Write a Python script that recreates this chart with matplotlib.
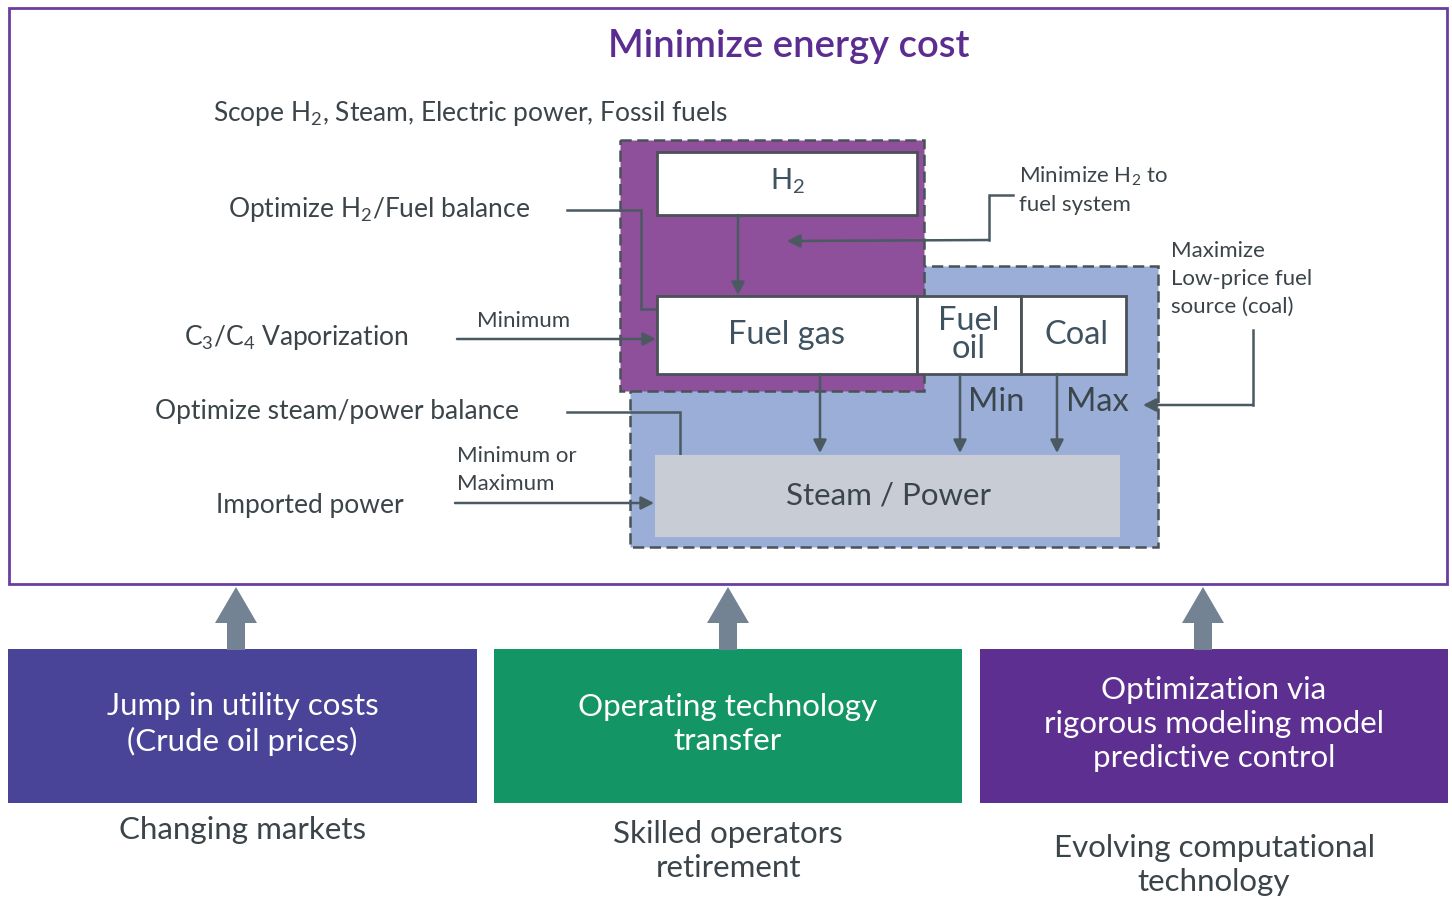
import matplotlib.pyplot as plt
from matplotlib.patches import Rectangle, FancyArrow

plt.rcParams['font.family'] = ['Lato', 'DejaVu Sans']
plt.rcParams['mathtext.fontset'] = 'custom'
plt.rcParams['mathtext.rm'] = 'Lato'
plt.rcParams['mathtext.default'] = 'regular'

# texts of the diagram
title = 'Minimize energy cost'
scope = 'Scope H$_2$, Steam, Electric power, Fossil fuels'
left_labels = ['Optimize H$_2$/Fuel balance', 'C$_3$/C$_4$ Vaporization',
               'Optimize steam/power balance', 'Imported power']
small_labels = ['Minimum', 'Minimum or\nMaximum']
fuel_labels = ['Fuel gas', 'Fuel\noil', 'Coal']
limit_labels = ['Min', 'Max']
note_h2 = 'Minimize H$_2$ to\nfuel system'
note_coal = 'Maximize\nLow-price fuel\nsource (coal)'
drivers = ['Jump in utility costs\n(Crude oil prices)',
           'Operating technology\ntransfer',
           'Optimization via\nrigorous modeling model\npredictive control']
captions = ['Changing markets', 'Skilled operators\nretirement',
            'Evolving computational\ntechnology']

TXT = '#3b4449'
LINE = '#4b5961'
BOX = '#4a5157'

fig = plt.figure(figsize=(14.52, 8.98), dpi=100)
ax = fig.add_axes([0, 0, 1, 1])
ax.set_xlim(0, 1452)
ax.set_ylim(898, 0)
ax.axis('off')


def rect(x0, y0, x1, y1, **kw):
    ax.add_patch(Rectangle((x0, y0), x1 - x0, y1 - y0, **kw))


def arrow_line(pts, head=True):
    xs = [p[0] for p in pts]
    ys = [p[1] for p in pts]
    if head:
        ax.plot(xs[:-1], ys[:-1], color=LINE, lw=1.8, solid_joinstyle='miter')
        ax.annotate('', xy=pts[-1], xytext=pts[-2],
                    arrowprops=dict(arrowstyle='-|>,head_length=0.55,head_width=0.28',
                                    color=LINE, lw=1.8, shrinkA=0, shrinkB=0,
                                    mutation_scale=14))
    else:
        ax.plot(xs, ys, color=LINE, lw=1.8, solid_joinstyle='miter')


# outer frame
rect(9, 8, 1447, 584, fill=False, ec='#6a3d9e', lw=2)
ax.text(789, 46, title, ha='center', va='center', fontsize=27.5,
        fontweight='semibold', color='#5b2d91')
ax.text(213, 113, scope, ha='left', va='center', fontsize=19, color=TXT)

# shaded zones
dash = (0, (4.5, 2.2))
rect(630, 266, 1158, 547, fc='#9aaed7', ec=BOX, lw=1.8, ls=dash, zorder=1)
rect(620, 140, 924, 391, fc='#8e4f9b', ec=BOX, lw=1.8, ls=dash, zorder=2)

# boxes
rect(657, 152, 917, 215, fc='white', ec=BOX, lw=2, zorder=3)
ax.text(788, 181, 'H$_2$', ha='center', va='center', fontsize=21, color='#3e5260', zorder=4)
fuel_x = [657, 917, 1021, 1126]
for i, lab in enumerate(fuel_labels):
    rect(fuel_x[i], 296, fuel_x[i + 1], 374, fc='white', ec=BOX, lw=2, zorder=3)
    ax.text((fuel_x[i] + fuel_x[i + 1]) / 2 + (3 if i == 2 else 0), 335, lab,
            ha='center', va='center', fontsize=23.5, color='#3e5260', zorder=4,
            linespacing=0.95)
rect(655, 455, 1120, 537, fc='#c8ccd4', ec='none', zorder=3)
ax.text(888, 495, 'Steam / Power', ha='center', va='center', fontsize=22.5,
        color='#3a454c', zorder=4)
ax.text(968, 402, limit_labels[0], ha='left', va='center', fontsize=23.5, color='#3a454c', zorder=4)
ax.text(1066, 402, limit_labels[1], ha='left', va='center', fontsize=23.5, color='#3a454c', zorder=4)

# connectors
for p in [[(738, 215), (738, 295)],
          [(820, 374), (820, 453)],
          [(960, 374), (960, 453)],
          [(1057, 374), (1057, 453)]]:
    arrow_line(p)
arrow_line([(1013, 195), (989, 195), (989, 240), (787, 241)])
arrow_line([(567, 210), (641, 210), (641, 309), (657, 309)], head=False)
arrow_line([(457, 339), (656, 339)])
arrow_line([(567, 412), (680, 412), (680, 455)], head=False)
arrow_line([(455, 503), (654, 503)])
arrow_line([(1253, 330), (1253, 405), (1143, 405)])

# left labels
ax.text(530, 210, left_labels[0], ha='right', va='center', fontsize=19, color=TXT)
ax.text(184, 337, left_labels[1], ha='left', va='center', fontsize=19, color=TXT)
ax.text(155, 411, left_labels[2], ha='left', va='center', fontsize=19, color=TXT)
ax.text(216, 505, left_labels[3], ha='left', va='center', fontsize=19, color=TXT)
ax.text(477, 321, small_labels[0], ha='left', va='center', fontsize=16, color=TXT)
ax.text(457, 470, small_labels[1], ha='left', va='center', fontsize=16, color=TXT,
        linespacing=1.45)
ax.text(1019, 190, note_h2, ha='left', va='center', fontsize=16, color=TXT,
        linespacing=1.45)
ax.text(1171, 279, note_coal, ha='left', va='center', fontsize=16, color=TXT,
        linespacing=1.5)

# drivers
box_x = [(8, 477), (494, 962), (980, 1448)]
box_c = ['#4a4499', '#149566', '#5c2f91']
arrow_x = [236, 728, 1203]
cap_y = [830, 851, 865]
for i in range(3):
    x0, x1 = box_x[i]
    cx = (x0 + x1) / 2
    rect(x0, 649, x1, 803, fc=box_c[i], ec='none')
    ax.text(cx, 724, drivers[i], ha='center', va='center', fontsize=22.5,
            color='white', linespacing=1.25)
    ax.text(cx, cap_y[i], captions[i], ha='center', va='center', fontsize=22.5,
            color=TXT, linespacing=1.25)
    ax.add_patch(FancyArrow(arrow_x[i], 650, 0, -63, width=18,
                            head_width=42, head_length=36,
                            length_includes_head=True, fc='#738393', ec='none'))

fig.savefig('out.png', dpi=100)
